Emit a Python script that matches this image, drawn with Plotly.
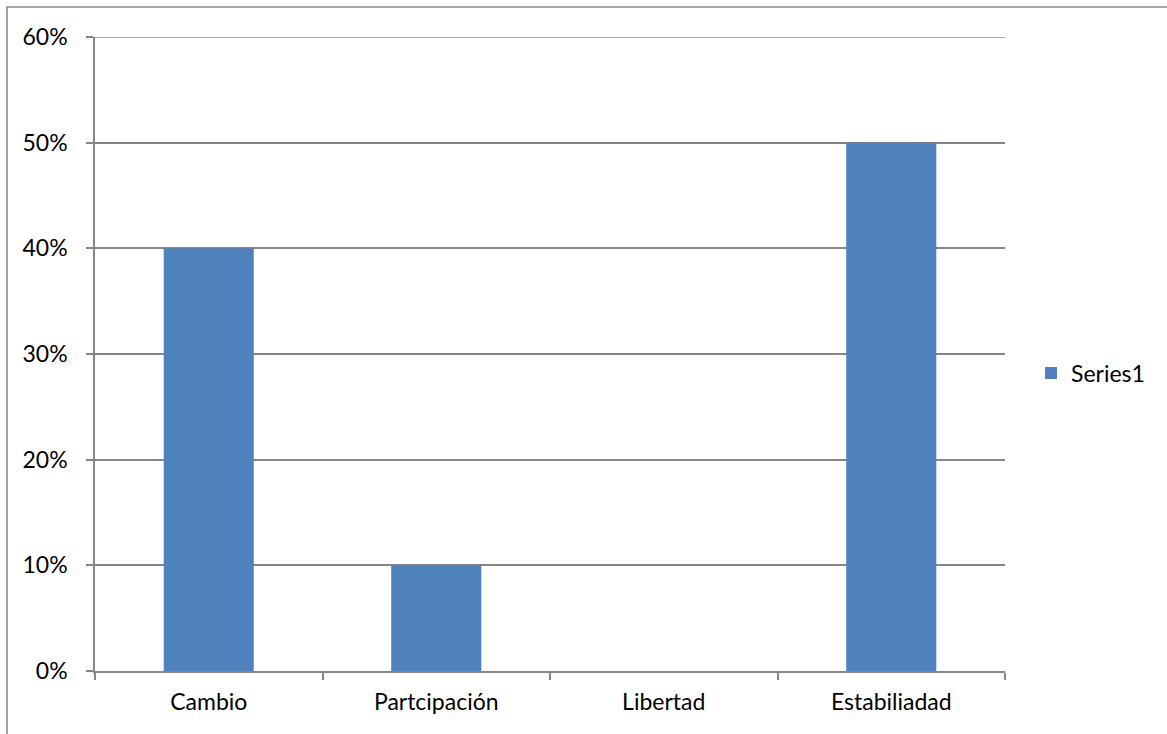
import plotly.graph_objects as go

categories = ["Cambio", "Partcipación", "Libertad", "Estabiliadad"]
values = [0.40, 0.10, 0.0, 0.50]
series_name = "Series1"

fig = go.Figure()
fig.add_trace(go.Bar(x=categories, y=values, name=series_name,
                     marker=dict(color="#4F81BD", line=dict(width=0)),
                     showlegend=True))

grid = "#868686"
fig.update_layout(
    width=1167, height=734,
    margin=dict(l=95, r=162, t=37, b=63, autoexpand=False),
    paper_bgcolor="white", plot_bgcolor="white",
    font=dict(family="Lato, Open Sans, sans-serif", size=23, color="black"),
    bargap=0.604,
    showlegend=True,
    legend=dict(xref="container", yref="container",
                x=1031 / 1167, y=(734 - 373) / 734, xanchor="left", yanchor="middle",
                font=dict(size=23), itemwidth=30),
    xaxis=dict(showline=True, linecolor=grid, linewidth=1.5,
               ticks="outside", tickson="boundaries", ticklen=7, tickcolor=grid,
               tickwidth=1.5, showgrid=False, ticklabelstandoff=10,
               tickfont=dict(size=23), automargin=False),
    yaxis=dict(range=[0, 0.6], dtick=0.1, tickformat=".0%",
               showline=True, linecolor=grid, linewidth=1.5,
               showgrid=True, gridcolor=grid, gridwidth=1.5,
               ticks="outside", ticklen=7, tickcolor=grid, tickwidth=1.5,
               ticklabelstandoff=14, zeroline=False, tickfont=dict(size=23),
               automargin=False),
    shapes=[dict(type="rect", xref="paper", yref="paper",
                 x0=(7 - 95) / 910, x1=(1180 - 95) / 910,
                 y0=(671 - 750) / 634, y1=(671 - 7) / 634,
                 line=dict(color=grid, width=1.5), layer="below"),
            dict(type="line", xref="paper", yref="y",
                 x0=-7 / 910, x1=1, y0=0.6, y1=0.6,
                 line=dict(color=grid, width=1.5))],
)

fig.write_html("out.html")
